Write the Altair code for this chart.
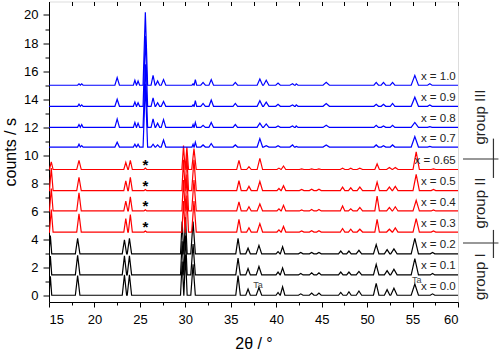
import altair as alt
import pandas as pd

FONT = "Liberation Sans"

# ---- sample labels, vertical offsets, groups -------------------------------
compositions = ["x = 0.0", "x = 0.1", "x = 0.2", "x = 0.3", "x = 0.4", "x = 0.5",
                "x = 0.65", "x = 0.7", "x = 0.8", "x = 0.9", "x = 1.0"]
offsets = [0.05, 1.5, 3.0, 4.55, 6.05, 7.5, 9.0, 10.6, 12.0, 13.5, 15.0]
groups = ["I", "I", "I", "II", "II", "II", "II", "III", "III", "III", "III"]

# ---- group I (black) peaks: position, half width, heights per sample -------
peaks_I = [15.15, 18.15, 23.3, 23.85, 29.65, 30.02, 30.85, 35.8, 36.9, 38.1, 40.2, 40.7,
           42.7, 43.9, 44.7, 47.1, 48.0, 49.1, 51.0, 52.2, 52.95, 55.25, 57.2]
widths_I = [0.15, 0.25, 0.24, 0.24, 0.18, 0.18, 0.25, 0.25, 0.25, 0.3, 0.22, 0.25,
            0.25, 0.25, 0.25, 0.25, 0.25, 0.3, 0.3, 0.3, 0.35, 0.4, 0.25]
h_x00 = [1.35, 1.4, 1.45, 1.45, 2.4, 2.9, 2.2, 1.4, 0.45, 0.55, 0.2, 0.6,
         0.1, 0.15, 0.15, 0.2, 0.25, 0.3, 0.85, 0.4, 0.5, 0.8, 0.1]
h_x01 = [1.35, 1.4, 1.35, 1.35, 2.4, 2.8, 2.2, 1.2, 0.45, 0.6, 0.2, 0.5,
         0.1, 0.15, 0.15, 0.2, 0.2, 0.25, 0.75, 0.3, 0.4, 1.15, 0.1]
h_x02 = [1.3, 1.1, 1.0, 1.1, 2.3, 2.6, 2.3, 1.1, 0.4, 0.6, 0.15, 0.5,
         0.1, 0.1, 0.1, 0.2, 0.2, 0.25, 0.65, 0.3, 0.35, 1.1, 0.1]

# ---- group II (red) peaks ---------------------------------------------------
peaks_II = [15.25, 18.3, 23.45, 23.95, 25.6, 29.8, 30.17, 30.95, 35.9, 37.0, 38.2, 40.3,
            40.8, 42.8, 43.9, 44.7, 47.3, 48.2, 49.2, 51.1, 52.45, 53.1, 55.4, 57.3]
widths_II = [0.2, 0.25, 0.22, 0.22, 0.15, 0.18, 0.18, 0.25, 0.25, 0.25, 0.3, 0.22,
             0.25, 0.25, 0.25, 0.25, 0.25, 0.25, 0.3, 0.25, 0.3, 0.3, 0.35, 0.25]
h_x03 = [1.6, 1.3, 0.95, 1.25, 0.08, 2.2, 2.6, 2.2, 0.9, 0.3, 0.6, 0.15,
         0.4, 0.08, 0.1, 0.1, 0.25, 0.2, 0.2, 0.9, 0.2, 0.3, 0.95, 0.08]
h_x04 = [1.6, 1.3, 0.7, 1.0, 0.08, 2.2, 2.6, 2.2, 0.65, 0.3, 0.5, 0.15,
         0.4, 0.08, 0.1, 0.1, 0.35, 0.15, 0.25, 1.05, 0.25, 0.3, 0.75, 0.08]
h_x05 = [1.6, 0.95, 0.7, 0.95, 0.08, 2.2, 2.5, 2.2, 0.7, 0.3, 0.65, 0.15,
         0.35, 0.08, 0.1, 0.1, 0.25, 0.2, 0.25, 0.6, 0.25, 0.3, 1.15, 0.08]
h_x065 = [0.55, 0.65, 0.5, 0.65, 0.1, 1.7, 1.6, 1.5, 0.65, 0.2, 0.8, 0.1,
          0.25, 0.05, 0.05, 0.05, 0.1, 0.1, 0.1, 0.4, 0.15, 0.15, 1.25, 0.05]

# ---- group III (blue) peaks -------------------------------------------------
peaks_III = [18.3, 18.6, 22.5, 24.45, 24.8, 25.6, 26.45, 26.95, 27.6, 30.85, 31.1, 31.95,
             32.85, 35.5, 38.2, 38.9, 40.2, 41.8, 42.2, 45.5, 51.0, 51.8, 52.8, 55.25, 56.9]
widths_III = [0.15, 0.15, 0.25, 0.17, 0.17, 0.25, 0.22, 0.22, 0.25, 0.12, 0.15, 0.25,
              0.25, 0.25, 0.3, 0.3, 0.25, 0.3, 0.2, 0.35, 0.25, 0.25, 0.25, 0.4, 0.25]
h_x07 = [0.2, 0.1, 0.35, 0.2, 0.2, 4.5, 0.2, 0.15, 0.5, 0.2, 0.35, 0.15,
         0.25, 0.15, 0.6, 0.1, 0.1, 0.15, 0.05, 0.15, 0.15, 0.1, 0.15, 0.75, 0.05]
h_x08 = [0.2, 0.2, 0.6, 0.35, 0.3, 4.5, 0.6, 0.3, 0.55, 0.2, 0.35, 0.15,
         0.35, 0.2, 0.3, 0.25, 0.1, 0.1, 0.1, 0.15, 0.15, 0.1, 0.15, 0.35, 0.05]
h_x09 = [0.15, 0.1, 0.5, 0.3, 0.25, 5.0, 0.6, 0.25, 0.35, 0.1, 0.4, 0.2,
         0.45, 0.2, 0.4, 0.3, 0.15, 0.1, 0.1, 0.2, 0.15, 0.15, 0.2, 0.65, 0.1]
h_x10 = [0.1, 0.1, 0.55, 0.35, 0.3, 5.2, 0.7, 0.3, 0.4, 0.1, 0.4, 0.2,
         0.4, 0.2, 0.45, 0.35, 0.15, 0.1, 0.1, 0.2, 0.2, 0.2, 0.2, 0.7, 0.1]

heights = [h_x00, h_x01, h_x02, h_x03, h_x04, h_x05, h_x065, h_x07, h_x08, h_x09, h_x10]
peak_sets = {"I": (peaks_I, widths_I), "II": (peaks_II, widths_II), "III": (peaks_III, widths_III)}

# ---- annotations ------------------------------------------------------------
star_samples = ["x = 0.3", "x = 0.4", "x = 0.5", "x = 0.65"]
star_pos = 25.6
ta_x = [38.0, 55.45]
ta_y = [0.78, 1.14]
group_names = ["group III", "group II", "group I"]
group_centers = [12.74, 6.62, 1.37]
sep_levels = [9.75, 3.77]
sep_bar_lo = [8.4, 2.7]
sep_bar_hi = [11.2, 4.7]

# ---- build tables -----------------------------------------------------------
rows = []
for comp, base, grp, hts in zip(compositions, offsets, groups, heights):
    pos, wid = peak_sets[grp]
    pts = [(15.0, base), (60.0, base)]
    for p, w, h in zip(pos, wid, hts):
        pts += [(max(p - w, 15.0), base), (p, base + h), (p + w, base)]
    pts.sort(key=lambda t: t[0])
    for i, (tt, yy) in enumerate(pts):
        rows.append({"tt": tt, "y": yy, "sample": comp, "group": grp, "i": i})
lines_df = pd.DataFrame(rows)

labels_df = pd.DataFrame({"sample": compositions, "tt": 59.75,
                          "y": [o + 0.6 for o in offsets]})
stars_df = pd.DataFrame({"tt": star_pos,
                         "y": [offsets[compositions.index(s)] for s in star_samples],
                         "t": "*"})
ta_df = pd.DataFrame({"tt": ta_x, "y": ta_y, "t": "Ta"})
grp_df = pd.DataFrame({"tt": 62.45, "y": group_centers, "t": group_names})
sep_df = pd.DataFrame({"x1": 60.55, "x2": 64.45, "y": sep_levels})
bar_df = pd.DataFrame({"tt": 63.9, "y1": sep_bar_lo, "y2": sep_bar_hi})

xscale = alt.Scale(domain=[15, 60], nice=False, zero=False)
yscale = alt.Scale(domain=[-0.43, 20.96], nice=False, zero=False)

x_axis = alt.Axis(
    title="2θ / °", values=[15 + 2.5 * k for k in range(19)], format="d",
    labelExpr="datum.value % 5 === 0 ? datum.label : ''",
    tickSize={"condition": {"test": "datum.value % 5 === 0", "value": 5}, "value": 3},
    labelFontSize=13, labelPadding=6, titleFontSize=16, titleFontWeight="normal",
    titlePadding=9, grid=False, labelFont=FONT, titleFont=FONT,
    domainColor="black", tickColor="black", labelColor="black", titleColor="black")
y_axis = alt.Axis(
    title="counts / s", values=list(range(0, 21)), format="d",
    labelExpr="datum.value % 2 === 0 ? datum.label : ''",
    tickSize={"condition": {"test": "datum.value % 2 === 0", "value": 6}, "value": 4},
    labelFontSize=13, labelPadding=5, titleFontSize=16, titleFontWeight="normal",
    titlePadding=5, grid=False, labelFont=FONT, titleFont=FONT,
    domainColor="black", tickColor="black", labelColor="black", titleColor="black")
top_axis = alt.Axis(orient="top", title=None, values=[15 + 2.5 * k for k in range(19)],
                    labels=False, domain=False, tickSize=4, offset=-4, grid=False,
                    tickColor="black")

lines = alt.Chart(lines_df).mark_line(strokeWidth=1.2, clip=True).encode(
    x=alt.X("tt:Q", scale=xscale, axis=x_axis),
    y=alt.Y("y:Q", scale=yscale, axis=y_axis),
    color=alt.Color("group:N", scale=alt.Scale(domain=["I", "II", "III"],
                                               range=["#000000", "#ff0000", "#0000ff"]),
                    legend=None),
    detail="sample:N",
    order="i:Q",
)

stars = alt.Chart(stars_df).mark_text(fontSize=15, fontWeight="bold", font=FONT,
                                      baseline="alphabetic", color="black").encode(
    x=alt.X("tt:Q", scale=xscale, axis=top_axis),
    y=alt.Y("y:Q", scale=yscale, axis=None),
    text="t:N",
)

labels = alt.Chart(labels_df).mark_text(fontSize=11.5, font=FONT, align="right",
                                        baseline="middle", color="#222222").encode(
    x=alt.X("tt:Q", scale=xscale, axis=None),
    y=alt.Y("y:Q", scale=yscale, axis=None),
    text="sample:N",
)

ta = alt.Chart(ta_df).mark_text(fontSize=9, font=FONT, align="center",
                                baseline="middle", color="#444444").encode(
    x=alt.X("tt:Q", scale=xscale, axis=None),
    y=alt.Y("y:Q", scale=yscale, axis=None),
    text="t:N",
)

grp_text = alt.Chart(grp_df).mark_text(fontSize=15, font=FONT, angle=270, align="center",
                                       baseline="middle", color="#222222").encode(
    x=alt.X("tt:Q", scale=xscale, axis=None),
    y=alt.Y("y:Q", scale=yscale, axis=None),
    text="t:N",
)

seps = alt.Chart(sep_df).mark_rule(color="#333333", strokeWidth=1.2).encode(
    x=alt.X("x1:Q", scale=xscale, axis=None),
    x2="x2:Q",
    y=alt.Y("y:Q", scale=yscale, axis=None),
)

bars = alt.Chart(bar_df).mark_rule(color="#333333", strokeWidth=1.2).encode(
    x=alt.X("tt:Q", scale=xscale, axis=None),
    y=alt.Y("y1:Q", scale=yscale, axis=None),
    y2="y2:Q",
)

chart = alt.layer(lines, stars, labels, ta, grp_text, seps, bars).resolve_axis(
    x="independent", y="independent"
).properties(
    width=409, height=300.5,
    autosize=alt.AutoSizeParams(type="none"),
    padding={"left": 49, "top": 1.5, "right": 42, "bottom": 50},
).configure_view(stroke="black", strokeWidth=1).configure(background="white")

chart.save("out.html", embed_options={"renderer": "svg", "actions": False})
